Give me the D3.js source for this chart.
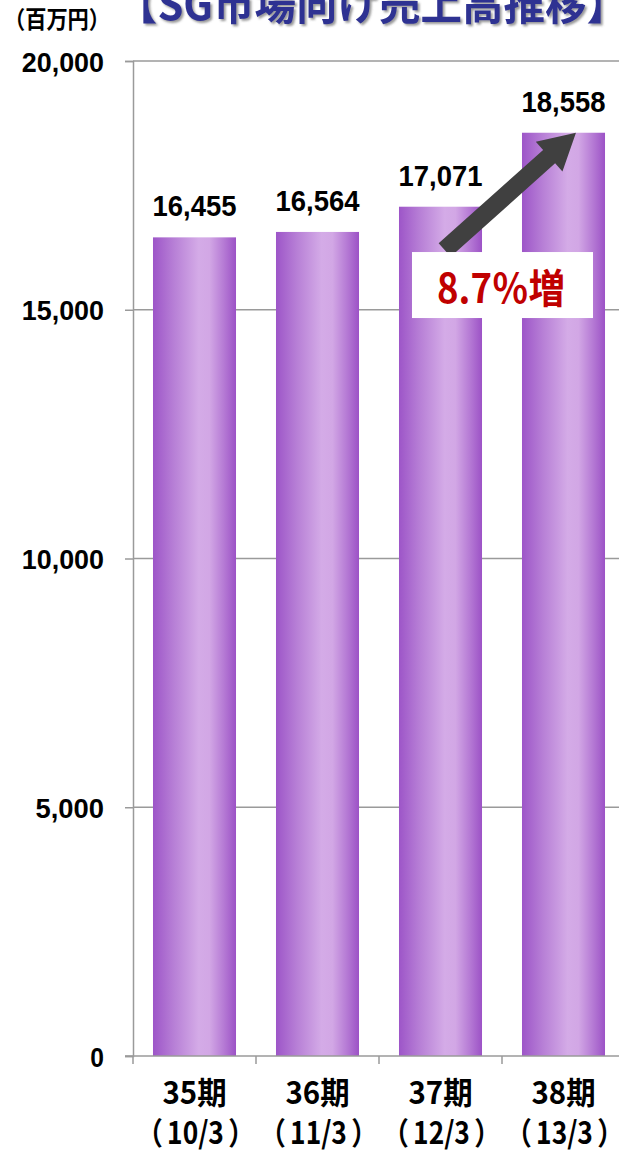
<!DOCTYPE html>
<html>
<head>
<meta charset="utf-8">
<script src="https://cdn.jsdelivr.net/npm/d3@7"></script>
<style>
  html, body { margin: 0; padding: 0; background: #fff; }
  svg { display: block; }
</style>
</head>
<body>
<svg id="chart" width="619" height="1152"></svg>
<script>
// 期別の売上高（百万円）
const periods = ["35期", "36期", "37期", "38期"];
const fiscalEnds = ["（10/3）", "（11/3）", "（12/3）", "（13/3）"];
const sales = [16455, 16564, 17071, 18558];
const yTicks = [0, 5000, 10000, 15000, 20000];
const titleText = "【SG市場向け売上高推移】";
const unitText = "（百万円）";
const growthText = "8.7％増";

const numFont = "'Liberation Sans', Arial, sans-serif";
const jpFont = "'Noto Sans CJK JP', sans-serif";

const svg = d3.select("#chart");
const margin = { left: 133, right: -6, top: 61, bottom: 96 };
const W = 619, H = 1152;

const x = d3.scaleBand()
  .domain(periods)
  .range([margin.left, W - margin.right])
  .paddingInner(0.325)
  .paddingOuter(0.1625);

const y = d3.scaleLinear()
  .domain([0, 20000])
  .range([H - margin.bottom, margin.top]);

// bar gradient: dark violet edges, lavender highlight
const defs = svg.append("defs");
const grad = defs.append("linearGradient")
  .attr("id", "barGrad")
  .attr("x1", "0%").attr("x2", "100%").attr("y1", "0%").attr("y2", "0%");
[[0, "#9d55c8"], [0.25, "#b77fd6"], [0.55, "#d4abe7"], [0.68, "#d2a7e5"], [0.85, "#b67bd5"], [1, "#9c52c6"]]
  .forEach(([o, c]) => grad.append("stop").attr("offset", o).attr("stop-color", c));

const shadow = defs.append("filter").attr("id", "titleShadow")
  .attr("x", "-5%").attr("y", "-20%").attr("width", "110%").attr("height", "150%");
shadow.append("feDropShadow").attr("dx", 2).attr("dy", 2).attr("stdDeviation", 1.2)
  .attr("flood-color", "#555").attr("flood-opacity", 0.6);

// gridlines
svg.append("g")
  .selectAll("line")
  .data(yTicks.filter(d => d > 0))
  .join("line")
  .attr("x1", margin.left).attr("x2", W)
  .attr("y1", d => y(d)).attr("y2", d => y(d))
  .attr("stroke", "#9a9a9a").attr("stroke-width", 1.5);

// y axis
const yAxis = svg.append("g")
  .attr("transform", `translate(${margin.left},0)`)
  .call(d3.axisLeft(y).tickValues(yTicks).tickSize(8).tickPadding(21)
    .tickFormat(d3.format(",")));
yAxis.select(".domain").attr("stroke", "#9a9a9a").attr("stroke-width", 1.5);
yAxis.selectAll(".tick line").attr("stroke", "#9a9a9a").attr("stroke-width", 1.5);
yAxis.selectAll(".tick text")
  .attr("font-family", numFont).attr("font-weight", "bold")
  .attr("font-size", 28).attr("fill", "#000").attr("dy", "0.36em")
  .each(function (d) {
    const n = d3.format(",")(d).length;
    d3.select(this).attr("textLength", n * 13.7).attr("lengthAdjust", "spacingAndGlyphs");
  });

// bars
svg.append("g")
  .selectAll("rect")
  .data(sales)
  .join("rect")
  .attr("x", (d, i) => x(periods[i]))
  .attr("width", x.bandwidth())
  .attr("y", d => y(d))
  .attr("height", d => y(0) - y(d))
  .attr("fill", "url(#barGrad)");

// x axis baseline and category boundary ticks
svg.append("line")
  .attr("x1", margin.left - 8).attr("x2", W)
  .attr("y1", y(0)).attr("y2", y(0))
  .attr("stroke", "#9a9a9a").attr("stroke-width", 1.5);
svg.append("g")
  .selectAll("line")
  .data(periods)
  .join("line")
  .attr("x1", d => x(d) - x.step() * x.paddingInner() / 2)
  .attr("x2", d => x(d) - x.step() * x.paddingInner() / 2)
  .attr("y1", y(0)).attr("y2", y(0) + 8)
  .attr("stroke", "#9a9a9a").attr("stroke-width", 1.5);

// category labels, slightly condensed
const labels = svg.append("g");
periods.forEach((p, i) => {
  const cx = x(p) + x.bandwidth() / 2;
  labels.append("text")
    .attr("transform", `translate(${cx},${y(0) + 48}) scale(0.95,1)`)
    .attr("text-anchor", "middle")
    .attr("font-family", jpFont).attr("font-weight", "bold")
    .attr("font-size", 31).attr("fill", "#000")
    .text(p);
  // fiscal year end in parentheses, with a little air inside the brackets
  const s = fiscalEnds[i];
  const t = labels.append("text")
    .attr("transform", `translate(${cx + 1},${y(0) + 88}) scale(0.85,1)`)
    .attr("text-anchor", "middle")
    .attr("font-family", jpFont).attr("font-weight", "bold")
    .attr("font-size", 31).attr("fill", "#000");
  t.append("tspan").text(s.slice(0, 1));
  t.append("tspan").attr("dx", 5).text(s.slice(1, -1));
  t.append("tspan").attr("dx", 5).text(s.slice(-1));
});

// value labels
svg.append("g")
  .selectAll("text")
  .data(sales)
  .join("text")
  .attr("x", (d, i) => x(periods[i]) + x.bandwidth() / 2)
  .attr("y", d => y(d) - 21)
  .attr("text-anchor", "middle")
  .attr("font-family", numFont).attr("font-weight", "bold")
  .attr("font-size", 30).attr("fill", "#000")
  .attr("textLength", 84).attr("lengthAdjust", "spacingAndGlyphs")
  .text(d3.format(","));

// growth arrow from 37期 to 38期
const tail = [x(periods[2]) + x.bandwidth() * 0.55, y(16200)];
const tip = [x(periods[3]) + x.bandwidth() * 0.65, y(18560)];
const ang = Math.atan2(tip[1] - tail[1], tip[0] - tail[0]);
const headLen = 36, headHalf = 20, shaftHalf = 9;
const ux = Math.cos(ang), uy = Math.sin(ang), nx = -uy, ny = ux;
const base = [tip[0] - ux * headLen, tip[1] - uy * headLen];
const arrowPts = [
  [tail[0] + nx * shaftHalf, tail[1] + ny * shaftHalf],
  [base[0] + nx * shaftHalf, base[1] + ny * shaftHalf],
  [base[0] + nx * headHalf, base[1] + ny * headHalf],
  tip,
  [base[0] - nx * headHalf, base[1] - ny * headHalf],
  [base[0] - nx * shaftHalf, base[1] - ny * shaftHalf],
  [tail[0] - nx * shaftHalf, tail[1] - ny * shaftHalf]
];
svg.append("polygon")
  .attr("points", arrowPts.map(p => p.join(",")).join(" "))
  .attr("fill", "#404040");

// growth label box
const boxX = x(periods[2]) + 13, boxY = y(16160);
svg.append("rect")
  .attr("x", boxX).attr("y", boxY)
  .attr("width", 181).attr("height", 66)
  .attr("fill", "#fff");
svg.append("text")
  .attr("x", boxX + 89).attr("y", boxY + 51)
  .attr("text-anchor", "middle")
  .attr("font-family", jpFont).attr("font-weight", "bold")
  .attr("font-size", 40).attr("fill", "#c00000")
  .attr("textLength", 128).attr("lengthAdjust", "spacingAndGlyphs")
  .text(growthText);

// unit and title
svg.append("text")
  .attr("x", 4).attr("y", 28)
  .attr("font-family", jpFont).attr("font-weight", "bold")
  .attr("font-size", 24).attr("fill", "#000")
  .attr("textLength", 106).attr("lengthAdjust", "spacingAndGlyphs")
  .text(unitText);
svg.append("text")
  .attr("x", 116).attr("y", 20)
  .attr("font-family", jpFont).attr("font-weight", "bold")
  .attr("font-size", 43).attr("fill", "#2e3192")
  .attr("textLength", 512).attr("lengthAdjust", "spacingAndGlyphs")
  .attr("filter", "url(#titleShadow)")
  .text(titleText);
</script>
</body>
</html>
